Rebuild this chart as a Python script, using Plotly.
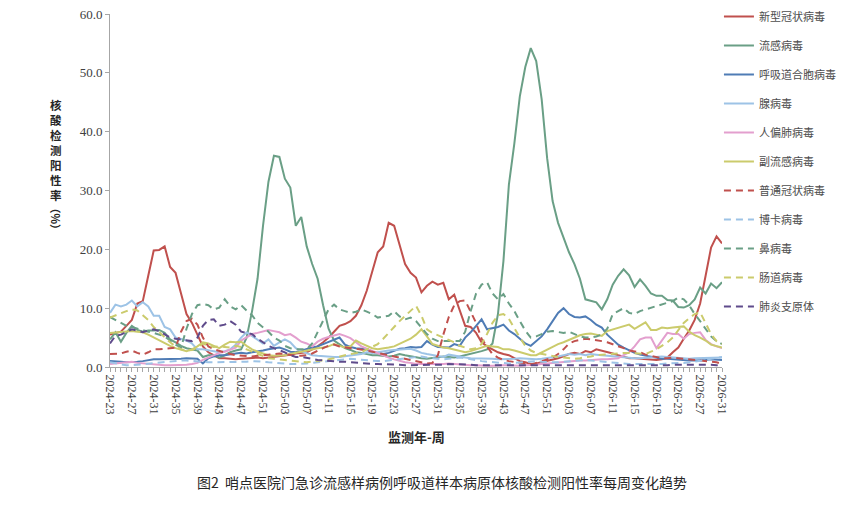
import plotly.graph_objects as go

# 监测年-周 (2024-23 ... 2026-31)
weeks = [f"{y}-{w:02d}" for y, a, b in ((2024, 23, 52), (2025, 1, 52), (2026, 1, 31))
         for w in range(a, b + 1)]
tick_text = [wk if i % 4 == 0 else "" for i, wk in enumerate(weeks)]

covid = [5.5, 5.8, 6.0, 7.0, 8.0, 10.8, 11.2, 15.5, 19.8, 19.9,
         20.5, 17.0, 16.0, 12.5, 9.0, 7.5, 5.5, 3.5, 2.5, 2.0,
         1.5, 1.5, 1.4, 1.3, 1.4, 1.5, 1.5, 1.6, 1.5, 1.6,
         1.8, 1.9, 2.0, 2.1, 2.3, 2.4, 2.5, 3.0, 3.5, 4.2,
         5.0, 6.0, 7.0, 7.3, 7.8, 8.7, 10.5, 13.0, 16.5, 19.5,
         20.5, 24.5, 24.0, 20.5, 17.5, 16.0, 15.2, 12.7, 13.8, 14.5,
         14.0, 14.3, 11.5, 12.3, 9.5, 7.0, 6.8, 5.8, 4.2, 3.5,
         3.0, 2.5, 2.2, 2.0, 1.5, 1.0, 0.8, 0.5, 0.6, 0.8,
         1.0, 1.2, 1.5, 1.8, 2.2, 2.4, 2.2, 2.7, 2.5, 3.0,
         2.8, 2.5, 2.3, 2.0, 1.8, 1.5, 1.5, 1.4, 1.3, 1.2,
         1.2, 1.3, 1.6, 2.5, 3.3, 4.8, 6.2, 8.0, 10.8, 15.5,
         20.3, 22.2, 21.0]

flu = [4.7, 5.9, 4.3, 5.8, 7.0, 6.3, 6.0, 6.2, 6.2, 6.3,
       5.8, 4.7, 4.2, 3.6, 3.2, 3.0, 2.8, 1.7, 2.0, 2.0,
       1.6, 2.0, 2.5, 2.8, 3.0, 5.0, 9.5, 15.0, 24.0, 31.5,
       35.9, 35.7, 32.0, 30.5, 24.0, 25.5, 20.5, 17.5, 15.0, 10.5,
       6.5, 4.5, 3.8, 3.2, 2.9, 2.5, 2.4, 2.2, 2.0, 2.0,
       1.9, 1.8, 1.9, 2.2, 2.0, 1.8, 1.6, 1.5, 1.4, 1.5,
       1.6, 1.8, 1.7, 1.6, 1.8, 2.0, 2.2, 2.5, 2.7, 3.0,
       4.0, 9.0, 18.0, 31.0, 38.0, 46.0, 51.0, 54.2, 52.0, 45.5,
       35.5, 28.2, 24.5, 22.0, 19.5, 17.5, 15.0, 11.5, 11.2, 11.0,
       9.8, 11.5, 14.0, 15.5, 16.6, 15.6, 13.6, 14.9, 13.8, 12.5,
       12.1, 12.1, 11.4, 11.3, 10.2, 10.1, 10.5, 11.5, 13.5, 12.5,
       14.2, 13.4, 14.4]

rsv = [1.0, 1.0, 0.9, 0.8, 0.8, 0.9, 1.0, 1.2, 1.3, 1.3,
       1.3, 1.4, 1.4, 1.4, 1.5, 1.5, 1.4, 0.6, 1.5, 1.8,
       2.0, 2.0, 2.2, 2.3, 2.4, 2.3, 2.5, 2.6, 2.8, 3.0,
       3.2, 3.3, 3.0, 2.6, 2.5, 2.8, 3.0, 3.3, 3.5, 3.9,
       4.2, 4.6, 5.0, 3.8, 3.4, 3.2, 3.1, 3.0, 2.6, 2.4,
       2.2, 2.4, 2.8, 3.1, 3.2, 3.4, 3.3, 3.4, 4.4, 3.8,
       3.4, 3.3, 3.3, 3.9, 3.6, 5.0, 5.9, 7.0, 8.1, 6.4,
       6.6, 6.8, 7.2, 6.2, 5.6, 4.8, 4.0, 3.6, 4.4, 5.2,
       6.4, 7.8, 9.2, 10.0, 9.0, 8.5, 8.4, 8.6, 8.0, 7.2,
       6.7, 5.5, 4.6, 3.8, 3.3, 2.8, 2.4, 2.1, 1.9, 1.7,
       1.5, 1.4, 1.4, 1.3, 1.3, 1.1, 1.1, 1.1, 1.1, 1.2,
       1.3, 1.3, 1.2]

adeno = [9.2, 10.6, 10.3, 10.6, 11.3, 10.3, 11.0, 10.3, 8.7, 8.7,
         6.8, 6.4, 5.0, 4.8, 4.5, 4.0, 3.0, 3.0, 2.8, 2.6,
         2.5, 2.7, 3.0, 3.8, 5.0, 5.9, 5.3, 4.6, 4.0, 4.7,
         3.6, 4.2, 4.7, 4.2, 3.2, 2.7, 2.3, 2.0, 1.9, 1.8,
         1.7, 1.7, 1.7, 1.8, 1.9, 2.0, 2.2, 2.5, 2.4, 2.5,
         2.7, 2.8, 2.9, 3.0, 3.0, 3.1, 2.8, 2.4, 2.2, 2.0,
         1.8, 1.7, 2.1, 1.9, 1.7, 1.6, 1.5, 1.5, 1.4, 1.5,
         1.4, 1.3, 1.3, 1.4, 1.4, 1.5, 1.4, 1.4, 1.3, 1.4,
         1.5, 1.6, 1.8, 2.0, 2.2, 2.1, 2.2, 2.0, 2.2, 2.1,
         2.0, 1.9, 1.8, 1.7, 1.6, 1.6, 1.5, 1.5, 1.6, 1.6,
         1.7, 1.8, 1.7, 1.6, 1.5, 1.4, 1.4, 1.5, 1.5, 1.5,
         1.6, 1.6, 1.6]

hmpv = [0.5, 0.6, 0.6, 0.7, 0.9, 0.7, 0.6, 0.5, 0.4, 0.3,
        0.3, 0.3, 0.3, 0.3, 0.4, 0.5, 0.7, 1.2, 1.6, 2.0,
        2.4, 2.6, 2.9, 3.3, 4.5, 5.0, 5.6, 5.8, 6.1, 6.3,
        6.1, 5.9, 5.4, 5.6, 5.0, 4.3, 4.0, 3.5, 4.3, 4.8,
        5.1, 5.4, 5.6, 5.3, 4.9, 4.2, 3.5, 3.1, 2.7, 2.3,
        2.0, 1.6, 1.3, 1.0, 0.8, 0.7, 0.5, 0.5, 0.5, 0.4,
        0.4, 0.5, 0.6, 0.5, 0.4, 0.3, 0.3, 0.3, 0.2, 0.2,
        0.2, 0.3, 0.3, 0.3, 0.2, 0.2, 0.3, 0.3, 0.4, 0.5,
        0.6, 0.7, 0.8, 0.9, 1.0, 1.0, 1.1, 1.1, 1.2, 1.2,
        1.3, 1.3, 1.4, 1.5, 2.0, 2.5, 3.5, 4.7, 5.0, 5.0,
        3.2, 4.5, 5.8, 5.6, 5.6, 4.8, 5.6, 5.8, 5.9, 4.6,
        3.9, 3.5, 3.2]

parainf = [5.8, 5.9, 6.0, 6.0, 6.1, 6.0, 5.9, 5.5, 5.0, 4.5,
           4.0, 3.6, 3.2, 2.9, 2.7, 3.0, 3.5, 4.2, 4.0, 3.6,
           3.2, 3.8, 4.3, 4.2, 4.3, 3.6, 3.0, 2.6, 2.3, 2.0,
           1.9, 1.9, 2.0, 2.2, 2.4, 2.7, 2.8, 3.0, 3.2, 3.3,
           3.5, 3.9, 3.6, 3.3, 3.5, 4.5, 4.0, 3.6, 3.2, 3.0,
           3.1, 3.3, 3.5, 3.9, 4.3, 4.8, 5.5, 6.4, 5.2, 3.9,
           3.6, 3.3, 3.2, 3.0, 2.8, 2.5, 2.7, 3.0, 3.3, 3.6,
           3.5, 3.4, 3.0, 3.0, 2.8, 2.5, 2.2, 2.0, 2.0, 2.5,
           3.0, 3.5, 3.9, 4.2, 4.6, 5.0, 5.4, 5.6, 5.7, 5.5,
           5.3, 6.1, 6.4, 6.7, 7.0, 7.2, 6.5, 7.0, 7.6, 6.3,
           6.3, 6.7, 6.6, 6.7, 6.8, 6.9, 6.0, 5.4, 5.0, 4.5,
           3.8, 3.5, 3.3]

hcov = [2.2, 2.2, 2.3, 2.6, 2.8, 2.4, 2.1, 2.5, 3.0, 3.0,
        3.1, 3.1, 3.3, 6.0, 7.8, 8.2, 7.2, 5.0, 3.5, 3.0,
        2.7, 2.4, 2.2, 2.0, 1.9, 1.8, 1.8, 1.9, 2.0, 2.1,
        2.2, 2.3, 2.2, 2.0, 1.9, 1.9, 2.0, 2.3, 2.8, 3.2,
        3.6, 3.8, 3.5, 3.3, 3.2, 3.1, 3.0, 2.8, 2.6, 2.4,
        2.2, 2.0, 1.8, 1.6, 1.4, 1.2, 1.0, 0.8, 0.6, 0.7,
        2.0, 5.5, 8.5, 10.5, 11.2, 11.3, 9.5, 7.5, 4.8, 3.6,
        2.2, 1.6, 1.2, 1.0, 0.8, 0.7, 0.6, 0.4, 0.7, 1.0,
        1.3, 1.6, 2.2, 3.0, 4.0, 4.4, 4.6, 4.8, 4.7, 4.6,
        4.4, 4.2, 3.9, 3.5, 3.2, 2.8, 2.7, 2.5, 2.1, 1.9,
        1.7, 1.5, 1.5, 1.6, 1.5, 1.4, 1.4, 1.3, 1.2, 1.1,
        1.0, 0.8, 0.5]

boca = [0.8, 0.6, 0.4, 0.3, 0.3, 0.4, 0.5, 0.6, 0.7, 0.8,
        0.9, 1.0, 1.0, 1.1, 1.1, 1.0, 0.9, 0.8, 0.8, 0.8,
        0.8, 0.9, 0.9, 0.8, 0.8, 0.9, 1.0, 1.0, 0.9, 0.8,
        0.7, 0.6, 0.6, 0.5, 0.5, 0.5, 0.6, 0.7, 0.8, 0.9,
        1.0, 1.1, 1.2, 1.3, 1.4, 1.3, 1.2, 1.1, 1.0, 1.0,
        1.0, 1.1, 1.2, 1.3, 1.5, 1.6, 1.7, 1.8, 1.6, 1.5,
        1.4, 1.3, 1.4, 1.5, 1.6, 1.5, 1.3, 1.2, 1.0, 0.9,
        0.8, 0.7, 0.6, 0.6, 0.7, 0.8, 0.9, 1.0, 1.0, 0.9,
        0.8, 0.8, 0.8, 0.9, 1.0, 1.1, 1.2, 1.2, 1.1, 1.0,
        0.9, 0.8, 0.7, 0.6, 0.6, 0.5, 0.5, 0.5, 0.4, 0.4,
        0.5, 0.5, 0.6, 0.6, 0.7, 0.7, 0.8, 0.9, 1.0, 1.2,
        1.4, 1.6, 1.7]

rhino = [8.5, 8.0, 7.5, 7.0, 6.8, 6.5, 6.2, 6.0, 5.8, 5.5,
         5.2, 4.5, 3.8, 3.3, 6.5, 9.0, 10.5, 10.7, 10.5, 9.8,
         10.1, 11.5, 10.3, 9.8, 10.5, 9.6, 8.8, 7.5, 6.8, 6.0,
         5.0, 4.5, 3.6, 3.2, 3.0, 3.0, 3.0, 4.0, 6.0, 8.0,
         9.8, 10.6, 9.8, 9.5, 9.2, 9.4, 9.8, 9.4, 9.0, 8.4,
         8.5, 8.7, 9.5, 8.6, 8.1, 8.4, 7.8, 6.7, 5.6, 4.8,
         4.4, 4.4, 4.4, 4.5, 4.4, 6.0, 9.5, 12.5, 14.0, 14.4,
         12.5, 11.5, 12.4, 10.8, 9.5, 7.8, 6.2, 5.0, 5.2, 5.6,
         6.0, 6.1, 6.0, 5.8, 6.0, 5.6, 5.2, 5.0, 5.0, 5.2,
         5.5, 6.5, 9.0, 9.5, 10.0, 9.2, 9.0, 9.5, 9.8, 10.1,
         10.4, 10.6, 11.0, 11.2, 11.8, 11.5, 10.5, 9.0, 7.8, 6.4,
         5.2, 4.4, 3.9]

entero = [8.4, 8.8, 9.2, 9.5, 9.8, 9.6, 8.8, 8.0, 6.8, 5.9,
          5.0, 4.2, 3.5, 3.0, 2.8, 2.9, 3.3, 4.0, 3.6, 3.4,
          3.5, 3.4, 3.3, 3.6, 3.4, 3.0, 2.6, 2.2, 1.8, 1.5,
          1.4, 1.3, 1.2, 1.0, 0.9, 0.8, 0.8, 0.9, 1.0, 1.2,
          1.3, 1.5, 1.8, 2.0, 2.2, 2.4, 2.5, 3.0, 3.5, 3.9,
          4.8, 5.9, 6.8, 7.8, 8.7, 9.5, 10.4, 8.7, 6.4, 5.8,
          5.4, 5.0, 4.5, 4.2, 3.6, 3.3, 3.0, 3.2, 3.9, 5.6,
          7.5, 8.8, 9.0, 8.2, 6.5, 5.0, 3.6, 2.8, 2.4, 2.2,
          2.0, 1.9, 1.7, 1.6, 1.5, 1.4, 1.5, 1.6, 1.8, 2.0,
          2.1, 2.2, 2.3, 2.3, 2.4, 2.4, 2.3, 2.2, 2.2, 2.6,
          3.0, 3.6, 4.2, 5.0, 6.2, 7.5, 8.3, 9.0, 9.3, 7.5,
          5.6, 4.4, 3.9]

mp = [4.0, 5.3, 5.5, 5.9, 6.4, 6.2, 5.9, 6.2, 6.4, 6.1,
      5.5, 5.0, 4.8, 4.7, 4.5, 4.4, 5.0, 7.0, 8.0, 8.1,
      7.0, 7.2, 7.8, 7.2, 6.0, 5.8, 5.6, 4.8, 4.2, 3.6,
      3.2, 2.9, 2.5, 2.0, 1.7, 1.7, 1.6, 1.4, 1.2, 1.1,
      1.0, 1.0, 0.9, 0.9, 0.8, 0.8, 0.7, 0.6, 0.5, 0.5,
      0.5, 0.4, 0.4, 0.4, 0.3, 0.3, 0.3, 0.3, 0.3, 0.3,
      0.4, 0.4, 0.5, 0.5, 0.5, 0.4, 0.4, 0.3, 0.3, 0.3,
      0.3, 0.3, 0.3, 0.2, 0.2, 0.2, 0.2, 0.2, 0.3, 0.3,
      0.3, 0.3, 0.3, 0.3, 0.3, 0.3, 0.3, 0.3, 0.3, 0.3,
      0.3, 0.3, 0.3, 0.3, 0.3, 0.3, 0.3, 0.3, 0.3, 0.3,
      0.3, 0.3, 0.3, 0.4, 0.4, 0.4, 0.5, 0.5, 0.5, 0.5,
      0.4, 0.3, 0.2]

RED = "#c0504d"
GREEN = "#6a9f86"
BLUE = "#4f7cb5"
LBLUE = "#9dc3e6"
PINK = "#e39fce"
YELLOW = "#cbcb6c"
PURPLE = "#5f4b8b"
DASH = "7px,5px"

series = [
    ("新型冠状病毒", covid, RED, "solid"),
    ("流感病毒", flu, GREEN, "solid"),
    ("呼吸道合胞病毒", rsv, BLUE, "solid"),
    ("腺病毒", adeno, LBLUE, "solid"),
    ("人偏肺病毒", hmpv, PINK, "solid"),
    ("副流感病毒", parainf, YELLOW, "solid"),
    ("普通冠状病毒", hcov, RED, DASH),
    ("博卡病毒", boca, LBLUE, DASH),
    ("鼻病毒", rhino, GREEN, DASH),
    ("肠道病毒", entero, YELLOW, DASH),
    ("肺炎支原体", mp, PURPLE, DASH),
]

fig = go.Figure()
for name, vals, color, dash in series:
    fig.add_trace(go.Scatter(
        x=weeks, y=vals, mode="lines", name=name, legendgroup=name,
        line=dict(color=color, width=2, dash=dash),
    ))

serif = "Liberation Serif, Times New Roman, serif"
cjk = "Noto Sans CJK SC"

# the page body adds an 8px margin, so the figure is 8px smaller than the window
fig.update_layout(
    width=857, height=497,
    margin=dict(l=102, r=143, t=6, b=138, autoexpand=False),
    paper_bgcolor="white", plot_bgcolor="white",
    showlegend=True,
    legend=dict(x=0.995, y=1.034, xanchor="left", yanchor="top",
                font=dict(family=cjk, size=11, color="#4d4d4d"),
                tracegroupgap=10, itemwidth=30, maxheight=1.0,
                bgcolor="rgba(0,0,0,0)"),
)

fig.update_xaxes(
    type="category", categoryorder="array", categoryarray=weeks,
    tickvals=weeks, ticktext=tick_text, tickangle=90,
    range=[0, len(weeks) - 1],
    showline=True, linecolor="#a6a6a6", linewidth=1,
    ticks="outside", ticklen=4, tickcolor="#a6a6a6",
    tickfont=dict(family=serif, size=12, color="#404040"),
    ticklabeloverflow="allow",
    showgrid=False, zeroline=False,
)
fig.update_yaxes(
    range=[0, 60], tickvals=[0, 10, 20, 30, 40, 50, 60], tickformat=".1f",
    showline=True, linecolor="#a6a6a6", linewidth=1,
    ticks="outside", ticklen=4, tickcolor="#a6a6a6",
    tickfont=dict(family=serif, size=13, color="#404040"),
    ticklabeloverflow="allow",
    showgrid=False, zeroline=False,
)

# 纵轴标题（竖排，每字一行）
y_title = "核酸检测阳性率"
for k, ch in enumerate(y_title):
    fig.add_annotation(
        text=f"<b>{ch}</b>", xref="paper", yref="paper",
        x=-0.089, y=(367 - 105 - 15 * k) / 353, xanchor="center", yanchor="middle",
        showarrow=False, font=dict(family=cjk, size=11.5, color="#262626"),
    )
fig.add_annotation(
    text="<b>（%）</b>", xref="paper", yref="paper", x=-0.089, y=(367 - 219) / 353,
    xanchor="center", yanchor="middle", showarrow=False, textangle=90,
    font=dict(family=cjk, size=11, color="#262626"),
)
# 横轴标题
fig.add_annotation(
    text="<b>监测年-周</b>", xref="paper", yref="paper", x=0.5, y=-0.198,
    xanchor="center", yanchor="middle", showarrow=False,
    font=dict(family=cjk, size=13, color="#262626"),
)
# 图题
fig.add_annotation(
    text="图2  哨点医院门急诊流感样病例呼吸道样本病原体核酸检测阳性率每周变化趋势",
    xref="paper", yref="paper", x=0.542, y=-0.326,
    xanchor="center", yanchor="middle", showarrow=False,
    font=dict(family=cjk, size=14, color="#262626"),
)

fig.write_html("out.html")
